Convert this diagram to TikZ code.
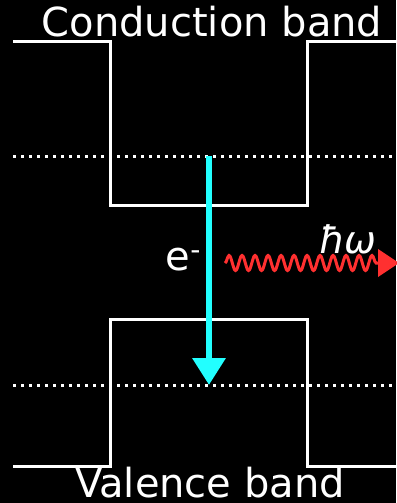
\documentclass[tikz,border=0pt]{standalone}
\usepackage{fontspec}
\setmainfont{DejaVu Sans}
\usetikzlibrary{arrows.meta,decorations.pathmorphing}
\definecolor{cyanarrow}{HTML}{22FFFF}
\definecolor{redwave}{HTML}{FF3030}
\tikzset{
  band/.style={draw=white, line width=3pt, line join=miter},
  level/.style={draw=white, line width=3pt, dash pattern=on 3pt off 5pt},
  lbl/.style={text=white, font=\fontsize{40}{48}\selectfont, inner sep=0pt},
  wave/.style={draw=redwave, line width=3pt, decorate, decoration={snake, segment length=13pt, amplitude=7.5pt}},
}
\begin{document}
\begin{tikzpicture}[x=1pt,y=-1pt]
\fill[black] (0,0) rectangle (396,503);
\useasboundingbox (0,0) rectangle (396,503);
% conduction band
\draw[band] (13,42) -- (110,42) -- (110,205) -- (307,205) -- (307,42) -- (397,42);
% valence band
\draw[band] (13,466) -- (110,466) -- (110,319) -- (307,319) -- (307,466) -- (397,466);
% levels
\draw[level] (13,156) -- (397,156);
\draw[level] (13,385) -- (397,385);
% labels
\node[lbl, anchor=base] (cb) at (212,37) {Conduction band};
\node[lbl, anchor=base] (vb) at (210,497) {Valence band};
\node[lbl, anchor=base] (el) at (183,270) {e\raisebox{0.5ex}{\fontsize{28}{30}\selectfont -}};
% electron transition
\coordinate (a1) at (209,156);
\coordinate (a2) at (209,385);
\draw[cyanarrow, line width=6.5pt, -{Triangle[width=32pt,length=27pt]}] (a1) -- (a2);
% photon
\coordinate (w1) at (225,263);
\coordinate (w2) at (380,263);
\draw[wave] (w1) -- (w2);
\fill[redwave] (378,249) -- (399,263) -- (378,277) -- cycle;
\node[lbl, anchor=base, font=\fontsize{38}{44}\selectfont\itshape, inner xsep=0pt] (hw) at (348,253) {ħ\kern-2ptω};
\end{tikzpicture}
\end{document}
